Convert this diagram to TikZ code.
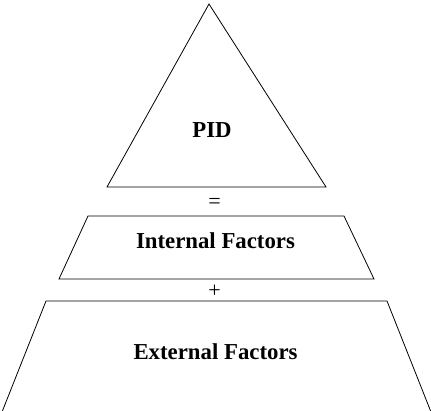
\documentclass[tikz,border=0pt]{standalone}
\usepackage{fontspec}
\setmainfont{Liberation Serif}
\usepackage{tikz}
\tikzstyle{layer} = [draw=black, line width=0.8pt, line join=miter]
\tikzstyle{label} = [font=\fontsize{22.8}{25}\selectfont\bfseries, inner sep=0pt]
\tikzstyle{operator} = [font=\fontsize{22}{24}\selectfont, inner sep=0pt]

\begin{document}
\begin{tikzpicture} [x=1pt, y=-1pt]
        \useasboundingbox (0,0) rectangle (431,411);

        \draw[layer] (209,4) -- (326,187) -- (107,187) -- cycle;
        \draw[layer] (88,216) -- (344,216) -- (374,279) -- (59,279) -- cycle;
        \draw[layer] (46,301) -- (387,301) -- (431,412) -- (2,412) -- cycle;

        \node (pid) [label] at (212,130) {PID};
        \node (eq) [operator] at (214.5,203) {=};
        \node (internal) [label] at (215.5,241) {Internal Factors};
        \node (plus) [operator] at (214.5,291) {+};
        \node (external) [label] at (215.5,352) {External Factors};
    \end{tikzpicture}
\end{document}
